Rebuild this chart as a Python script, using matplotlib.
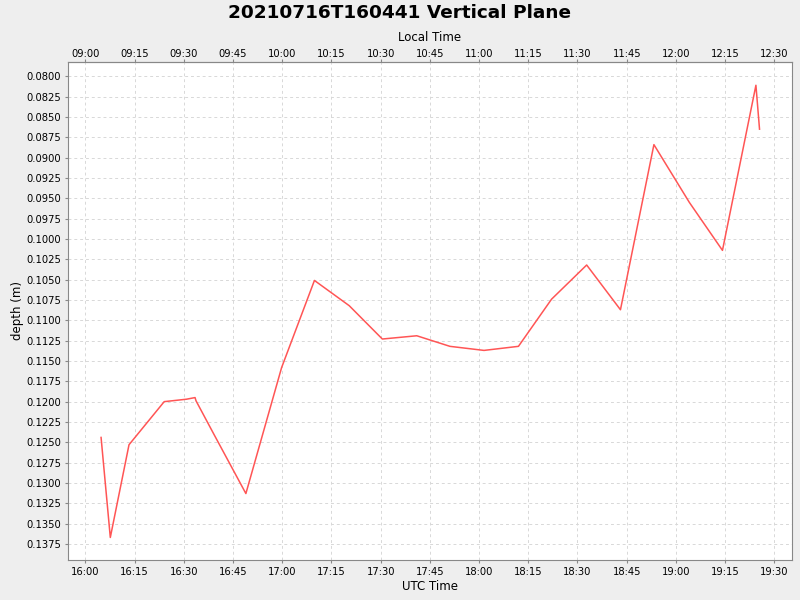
import datetime as dt
import matplotlib
matplotlib.use("Agg")
import matplotlib.pyplot as plt
import matplotlib.dates as mdates

# UTC sample times and depth values
utc_times = ["16:04:45", "16:07:34", "16:13:16", "16:24:00", "16:30:48", "16:33:24",
             "16:33:42", "16:39:00", "16:48:54", "16:59:48", "17:09:48", "17:20:24",
             "17:30:30", "17:41:00", "17:51:06", "18:01:30", "18:12:00", "18:22:06",
             "18:32:48", "18:43:06", "18:53:18", "19:04:06", "19:14:12", "19:24:24",
             "19:25:30"]
depth = [0.1244, 0.1367, 0.1253, 0.1200, 0.1197, 0.1195,
         0.1199, 0.1239, 0.1313, 0.1158, 0.1051, 0.1082,
         0.1123, 0.1119, 0.1132, 0.1137, 0.1132, 0.1074,
         0.1032, 0.1087, 0.0884, 0.0955, 0.1014, 0.0811,
         0.0865]

title = "20210716T160441 Vertical Plane"
day = dt.date(2021, 7, 16)
local_offset = dt.timedelta(hours=-7)

times = [dt.datetime.combine(day, dt.time.fromisoformat(s)) for s in utc_times]

fig = plt.figure(figsize=(8, 6), dpi=100, facecolor="#eeeeee")
ax = fig.add_axes([68 / 800, 40 / 600, 724 / 800, 498 / 600])
ax.set_facecolor("white")

ax.plot(times, depth, color="#ff5555", lw=1.1)

ax.set_xlim(dt.datetime(2021, 7, 16, 15, 54, 40), dt.datetime(2021, 7, 16, 19, 35, 24))
ax.set_ylim(0.13947, 0.07824)

ax.xaxis.set_major_locator(mdates.MinuteLocator(byminute=[0, 15, 30, 45]))
ax.xaxis.set_major_formatter(mdates.DateFormatter("%H:%M"))
yt = [0.08 + 0.0025 * i for i in range(24)]
ax.set_yticks(yt)
ax.set_yticklabels([f"{v:.4f}" for v in yt])

ax.grid(True, color="#d8d8d8", ls=(0, (3, 3)), lw=0.7)
for s in ax.spines.values():
    s.set_color("#888888")
ax.tick_params(labelsize=7.2, color="#888888", length=2.5, width=0.8, pad=2.5)

ax.set_xlabel("UTC Time", fontsize=8.5, labelpad=2)
ax.set_ylabel("depth (m)", fontsize=8.5, labelpad=1.5)

sec = ax.secondary_xaxis("top", functions=(lambda x: x + local_offset.total_seconds() / 86400,
                                           lambda x: x - local_offset.total_seconds() / 86400))
sec.xaxis.set_major_locator(mdates.MinuteLocator(byminute=[0, 15, 30, 45]))
sec.xaxis.set_major_formatter(mdates.DateFormatter("%H:%M"))
sec.tick_params(labelsize=7.2, color="#888888", length=2, width=0.8, pad=0)
sec.spines["top"].set_color("#888888")
sec.set_xlabel("Local Time", fontsize=8.5, labelpad=6)

fig.suptitle(title, fontsize=13.3, fontweight="bold", y=0.993, va="top")

fig.savefig("out.png", dpi=100, facecolor=fig.get_facecolor())
